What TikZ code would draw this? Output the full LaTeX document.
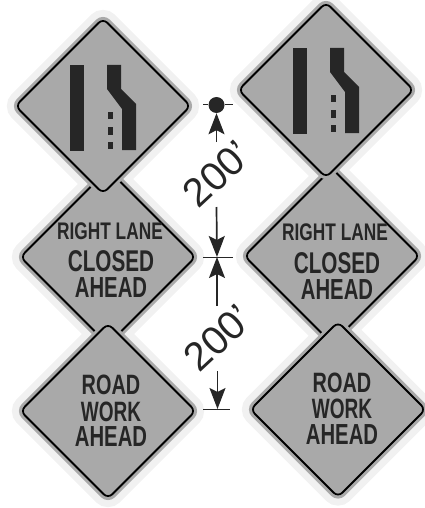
\documentclass[tikz,border=0pt]{standalone}
\usepackage{fontspec}
\setmainfont{Liberation Sans}
\usetikzlibrary{shapes.geometric,arrows.meta}
\definecolor{signgray}{HTML}{A9A9A9}
\definecolor{halogray}{HTML}{F1F1F1}
\definecolor{inkdark}{HTML}{262626}
\tikzset{
  plate/.style={diamond,aspect=1,minimum size=175pt,inner sep=0pt,outer sep=0pt,rounded corners=6pt},
  halo/.style={plate,draw=halogray,fill=halogray,line width=22pt},
  sign/.style={plate,draw=black,line width=1.8pt,fill=signgray,
    preaction={draw=signgray,line width=8pt}},
  signtext/.style={inner sep=0pt,text=inkdark},
  dim/.style={draw=inkdark,line width=1.7pt,-{Stealth[length=21pt,width=16pt,inset=4pt]}},
  tick/.style={draw=inkdark,line width=1pt},
  dist/.style={inner sep=0pt,rotate=43,font=\fontsize{40}{40}\selectfont,text=inkdark},
}
\newcommand{\signword}[5]{\node[signtext,font=\fontsize{#3}{#3}\selectfont\bfseries] (#1) at (#2) {\scalebox{#4}[1]{#5}};}
\newcommand{\lanemark}[1]{%
  \begin{scope}[shift={(#1)},fill=inkdark]
    \fill (0,0) rectangle (14,86);
    \fill (37,0) -- (51,0) -- (51,24) -- (66,39) -- (66,85) -- (52,85) -- (52,44) -- (37,24) -- cycle;
    \fill (38,47) rectangle (43,54);
    \fill (38,62) rectangle (43,70);
    \fill (38,77) rectangle (43,84);
  \end{scope}}
\begin{document}
\begin{tikzpicture}[x=1pt,y=-1pt]
\useasboundingbox (0,0) rectangle (425,508);
% pale scan halo behind all the signs
\node[halo] (hml) at (108,257) {};
\node[halo] (hmr) at (332,256) {};
\node[halo] (htl) at (103,106) {};
\node[halo] (htr) at (326,90) {};
\node[halo] (hbl) at (108,411) {};
\node[halo] (hbr) at (338,409.5) {};
% middle row first: the neighbouring signs overlap its corners
\node[sign] (ml) at (108,257) {};
\node[sign] (mr) at (332,256) {};
\node[sign] (tl) at (103,106) {};
\node[sign] (tr) at (326,90) {};
\node[sign] (bl) at (108,411) {};
\node[sign] (br) at (338,409.5) {};
\lanemark{70,65}
\lanemark{293,48}
\signword{ml1}{110,231}{24}{.72}{RIGHT LANE}
\signword{ml2}{111,261}{30}{.69}{CLOSED}
\signword{ml3}{111,288}{29}{.70}{AHEAD}
\signword{mr1}{335,232}{24}{.72}{RIGHT LANE}
\signword{mr2}{337,263}{30}{.69}{CLOSED}
\signword{mr3}{337,290}{29}{.70}{AHEAD}
\signword{bl1}{111,385}{28}{.71}{ROAD}
\signword{bl2}{111,412}{28}{.68}{WORK}
\signword{bl3}{111,437}{29}{.70}{AHEAD}
\signword{br1}{342,383}{28}{.71}{ROAD}
\signword{br2}{342,409}{28}{.68}{WORK}
\signword{br3}{342,435}{29}{.70}{AHEAD}
% flagger position
\node[circle,fill=inkdark,minimum size=16pt,inner sep=0pt] (spot) at (216.5,105) {};
\coordinate (spotl) at (203,105);
\coordinate (spotr) at (233,105);
\draw[tick] (spotl) -- (spot) -- (spotr);
% dimension marks
\coordinate (a1) at (216.5,142);
\coordinate (a2) at (216.5,207);
\coordinate (a3) at (217,306);
\coordinate (a4) at (217.5,371);
\coordinate (m1) at (217,257);
\coordinate (m2) at (217.5,409);
\coordinate (ml0) at (203,257);
\coordinate (ml9) at (233,257);
\coordinate (b0) at (203,409);
\coordinate (b9) at (230,409);
\draw[dim] (a1) -- (spot.south);
\draw[dim] (a2) -- (m1);
\draw[dim] (a3) -- (m1);
\draw[dim] (a4) -- (m2);
\draw[tick] (ml0) -- (ml9);
\draw[tick] (b0) -- (b9);
\node[dist] (d1) at (217,174) {200'};
\node[dist] (d2) at (218,338) {200'};
\end{tikzpicture}
\end{document}
